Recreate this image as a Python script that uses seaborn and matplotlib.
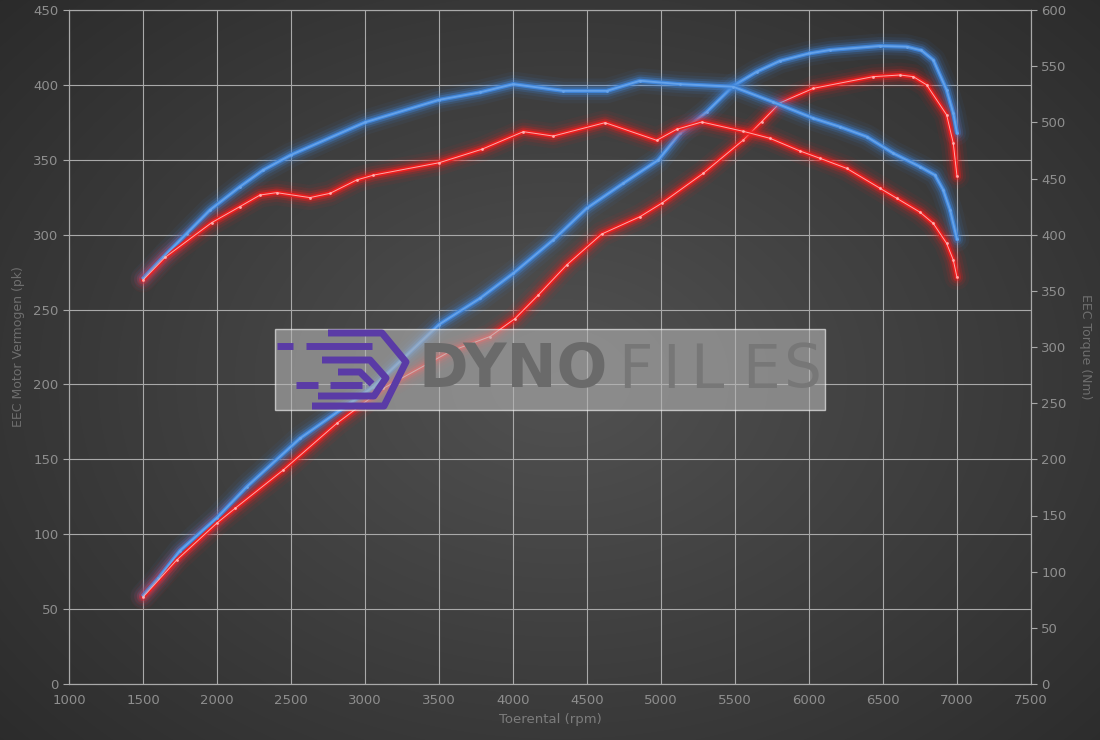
import matplotlib
matplotlib.use("Agg")
import matplotlib.pyplot as plt
import seaborn as sns
import numpy as np
import pandas as pd
from matplotlib.patches import Rectangle

# rpm / values
rpm_pow_blue = [1500, 1604, 1750, 2000, 2201, 2561, 3057, 3500, 3777, 4002, 4272, 4498, 4745, 4982, 5128, 5309,
                5488, 5647, 5804, 6000, 6142, 6480, 6660, 6760, 6840, 6930, 6975, 7000]
pow_blue = [59, 70.6, 89, 111, 131.7, 164, 198.5, 240, 257.5, 274.2, 296.5, 317.6, 334.3, 349.9, 367.7, 382,
            399.3, 408.8, 416, 421, 423.3, 426, 425.5, 423, 416.6, 396.6, 381, 368]

rpm_pow_red = [1500, 1728, 2000, 2122, 2448, 2809, 3124, 3574, 3845, 4014, 4171, 4363, 4599, 4858, 5005, 5286,
               5556, 5680, 5804, 6029, 6434, 6615, 6705, 6795, 6930, 6975, 7000]
pow_red = [58, 82.8, 107.5, 117.3, 142.9, 174, 197.4, 222, 232, 244, 259.7, 279.8, 300.4, 312, 321, 341,
           363.2, 375.4, 388, 397.7, 405.5, 406.6, 405.5, 400, 380, 361, 339]

rpm_tq_blue = [1500, 1637, 1795, 1953, 2155, 2313, 2500, 3000, 3500, 3777, 4002, 4340, 4633, 4858, 5128, 5488,
               5759, 6029, 6209, 6390, 6570, 6750, 6851, 6907, 6953, 7000]
tq_blue = [361, 380, 401, 422, 442.7, 457.6, 471, 500, 520, 526.7, 534, 528, 528, 537, 534, 531.7,
           518, 503.6, 496, 487.2, 472.4, 460.5, 453, 439.8, 422, 396]

rpm_tq_red = [1500, 1649, 1964, 2155, 2291, 2403, 2628, 2764, 2944, 3057, 3500, 3789, 4070, 4272, 4622, 4971,
              5106, 5275, 5556, 5736, 5939, 6074, 6255, 6480, 6593, 6750, 6840, 6930, 6975, 7000]
tq_red = [359.6, 379.8, 410.7, 425, 435.3, 437.4, 433, 436.8, 448.7, 453, 464, 476, 491.7, 487.8, 499.7, 484,
          493.8, 500.3, 492, 485.8, 474.5, 468, 459, 441.3, 432.4, 420, 410, 392.3, 377.4, 362]

x_ticks = list(range(1000, 7501, 500))
pow_ticks = list(range(0, 451, 50))
tq_ticks = list(range(0, 601, 50))

W, H = 1100, 740
grid_col = "#a9a9a9"
tick_col = "#8e8e8e"


def px(x, y):
    return x / W, 1 - y / H


def glow_line(ax, xs, ys, base, core, core_lw):
    df = pd.DataFrame({"rpm": xs, "val": ys})
    for lw, a in [(18, 0.06), (13, 0.1), (9, 0.18), (6, 0.35)]:
        sns.lineplot(data=df, x="rpm", y="val", ax=ax, color=base, lw=lw, alpha=a,
                     sort=False, estimator=None, zorder=3)
    sns.lineplot(data=df, x="rpm", y="val", ax=ax, color=base, lw=3, alpha=0.95,
                 sort=False, estimator=None, zorder=4)
    sns.lineplot(data=df, x="rpm", y="val", ax=ax, color=core, lw=core_lw, alpha=0.9,
                 sort=False, estimator=None, zorder=5, marker="o", markersize=2,
                 markeredgewidth=0)


sns.set_style("dark")
fig = plt.figure(figsize=(11, 7.4), dpi=100)

# radial dark background
bg = fig.add_axes([0, 0, 1, 1], zorder=-10)
yy, xx = np.mgrid[0:H, 0:W]
r = np.sqrt(((xx - 560) / 700) ** 2 + ((yy - 380) / 520) ** 2)
g = np.clip(0.32 - 0.14 * r, 0.16, 0.32)
bg.imshow(np.dstack([g, g, g]), aspect="auto", extent=[0, 1, 0, 1])
bg.axis("off")

l, b = px(69, 684)
rgt, t = px(1031, 10)
ax = fig.add_axes([l, b, rgt - l, t - b])
ax.set_facecolor("none")
ax2 = ax.twinx()
ax2.set_facecolor("none")

for a in (ax, ax2):
    for s in a.spines.values():
        s.set_color(grid_col)
        s.set_linewidth(0.8)

ax.set_xlim(1000, 7500)
ax.set_ylim(0, 450)
ax2.set_ylim(0, 600)
ax.set_xticks(x_ticks)
ax.set_yticks(pow_ticks)
ax2.set_yticks(tq_ticks)
ax.grid(True, color=grid_col, lw=0.8)
ax2.grid(False)
ax.tick_params(colors=grid_col, labelcolor=tick_col, labelsize=9.5, length=4, width=0.8)
ax2.tick_params(colors=grid_col, labelcolor=tick_col, labelsize=9.5, length=4, width=0.8)

# watermark box
x0, y0 = px(275, 410)
x1, y1 = px(825, 329)
fig.patches.append(Rectangle((x0, y0), x1 - x0, y1 - y0, transform=fig.transFigure,
                             facecolor="#b4b4b4", alpha=0.6, zorder=1))
purple = "#5a3ba6"
logo = [
    [(277, 346), (293, 346)], [(306, 346), (372, 346)],
    [(328, 333), (382, 333), (406, 362), (384, 406), (312, 406)],
    [(322, 360), (370, 360), (386, 378), (374, 396), (318, 396)],
    [(338, 372), (360, 372), (372, 384)],
    [(296, 385), (318, 385)], [(330, 385), (362, 385)],
]
for pts in logo:
    xs_, ys_ = zip(*[px(p[0], p[1]) for p in pts])
    fig.lines.append(plt.Line2D(xs_, ys_, transform=fig.transFigure, color=purple,
                                lw=5, solid_capstyle="butt", zorder=2))
tx, ty = px(418, 371)
fig.text(tx, ty, "DYNO", fontsize=43, fontweight="bold", color="#6a6a6a",
         va="center", ha="left", zorder=2)
for ch, xp in zip("FILES", [618, 662, 690, 742, 784]):
    cx, cy = px(xp, 371)
    fig.text(cx, cy, ch, fontsize=43, color="#777777", va="center", ha="left", zorder=2)

# curves
glow_line(ax, rpm_pow_blue, pow_blue, "#3f86dc", "#6aa6ec", 1.3)
glow_line(ax, rpm_pow_red, pow_red, "#f21e1e", "#ffb8b8", 0.7)
glow_line(ax2, rpm_tq_blue, tq_blue, "#3f86dc", "#6aa6ec", 1.3)
glow_line(ax2, rpm_tq_red, tq_red, "#f21e1e", "#ffb8b8", 0.7)
ax.set_xlabel("Toerental (rpm)", color="#7c7c7c", fontsize=9.5, labelpad=4)
ax.set_ylabel("EEC Motor Vermogen (pk)", color="#6e6e6e", fontsize=9, labelpad=6)
ax2.set_ylabel("EEC Torque (Nm)", color="#6e6e6e", fontsize=9, rotation=270, labelpad=18)

fig.savefig("out.png", dpi=100)
